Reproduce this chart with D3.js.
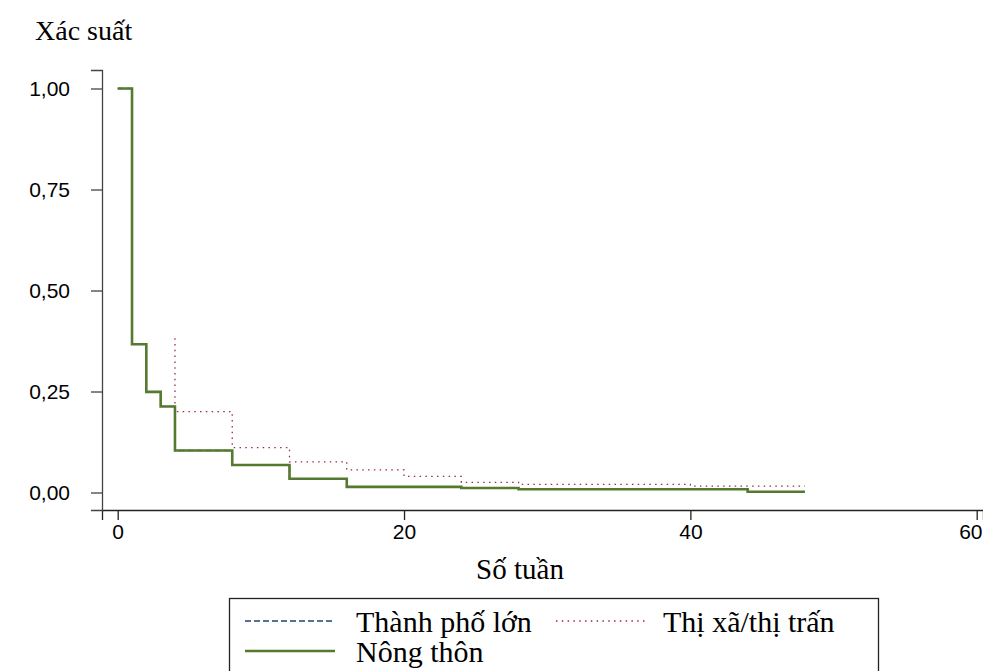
<!DOCTYPE html>
<html><head><meta charset="utf-8">
<script src="https://cdn.jsdelivr.net/npm/d3@7"></script>
<style>body{margin:0;background:#fff}svg{display:block}</style>
</head><body>
<script>
// Data (weeks, survival probability)
const weeksThanhPho = [0, 1, 2, 3, 4, 8, 12, 16, 24, 28, 44, 48];
const valuesThanhPho = [1.0, 0.367, 0.249, 0.213, 0.104, 0.068, 0.034, 0.014, 0.011, 0.008, 0.002, 0.002];
const weeksThiXa = [4, 4, 8, 12, 16, 20, 24, 28, 40, 48];
const valuesThiXa = [0.382, 0.200, 0.111, 0.076, 0.056, 0.040, 0.025, 0.020, 0.016, 0.016];
const weeksNongThon = [0, 1, 2, 3, 4, 8, 12, 16, 24, 28, 44, 48];
const valuesNongThon = [1.0, 0.367, 0.249, 0.213, 0.104, 0.068, 0.034, 0.014, 0.011, 0.008, 0.002, 0.002];
const xTicks = [0, 20, 40, 60];
const yTicks = [0, 0.25, 0.5, 0.75, 1.0];
const seriesNames = ["Thành phố lớn", "Thị xã/thị trấn", "Nông thôn"];

const W = 983, H = 671;
const svg = d3.select("body").append("svg").attr("width", W).attr("height", H);

const x = d3.scaleLinear().domain([-1.097, 60.44]).range([102, 983]);
const y = d3.scaleLinear().domain([-0.0433, 1.0458]).range([510, 70]);

const mk = (ws, vs) => ws.map((w, i) => ({w, v: vs[i]}));
const line = d3.line().x(d => x(d.w)).y(d => y(d.v)).curve(d3.curveStepAfter);
const sans = "Liberation Sans, Arial, sans-serif";

// axes
const xAxis = svg.append("g").attr("transform", "translate(0,510)")
  .call(d3.axisBottom(x).tickValues(xTicks).tickSizeOuter(0).tickSize(10).tickPadding(4));
xAxis.selectAll("text").attr("font-family", sans).attr("font-size", 21).attr("fill", "#000");
xAxis.selectAll("line,path").attr("stroke", "#222").attr("stroke-width", 1.3);
// keep the last label inside the picture
xAxis.selectAll(".tick text").each(function() {
  const b = this.getBBox();
  const gx = x(d3.select(this.parentNode).datum());
  const over = gx + b.x + b.width - 982;
  if (over > 0) d3.select(this).attr("x", -over);
});

const fmt = d => d3.format(".2f")(d).replace(".", ",");
const yAxis = svg.append("g").attr("transform", "translate(102,0)")
  .call(d3.axisLeft(y).tickValues(yTicks).tickFormat(fmt).tickSizeOuter(0).tickSize(11).tickPadding(21));
yAxis.selectAll("text").attr("font-family", sans).attr("font-size", 21).attr("fill", "#000");
yAxis.selectAll("line,path").attr("stroke", "#444").attr("stroke-width", 1.3);

// series
svg.append("path").datum(mk(weeksThanhPho, valuesThanhPho)).attr("d", line)
  .attr("fill", "none").attr("stroke", "#1a476f").attr("stroke-width", 1.3).attr("stroke-dasharray", "6,3");
svg.append("path").datum(mk(weeksThiXa, valuesThiXa)).attr("d", line)
  .attr("fill", "none").attr("stroke", "#9b2c45").attr("stroke-width", 1.3).attr("stroke-dasharray", "1.5,4.3");
svg.append("path").datum(mk(weeksNongThon, valuesNongThon)).attr("d", line)
  .attr("fill", "none").attr("stroke", "#55792f").attr("stroke-width", 2.6);

// titles
const serif = "Liberation Serif, Times New Roman, serif";
svg.append("text").attr("x", 35).attr("y", 40).attr("font-family", serif).attr("font-size", 28).text("Xác suất");
svg.append("text").attr("x", 520).attr("y", 579).attr("text-anchor", "middle").attr("font-family", serif).attr("font-size", 29).text("Số tuần");

// legend
svg.append("rect").attr("x", 229.5).attr("y", 598.5).attr("width", 649).attr("height", 90)
  .attr("fill", "none").attr("stroke", "#222").attr("stroke-width", 1.3);
const leg = [
  {x1: 245, x2: 335, y: 621, tx: 356, ty: 632, stroke: "#1a476f", sw: 1.4, dash: "6,3"},
  {x1: 556, x2: 645, y: 621, tx: 663, ty: 632, stroke: "#9b2c45", sw: 1.3, dash: "1.5,4.3"},
  {x1: 245, x2: 335, y: 651, tx: 356, ty: 662, stroke: "#55792f", sw: 2.6, dash: null}
];
leg.forEach((l, i) => {
  svg.append("line").attr("x1", l.x1).attr("x2", l.x2).attr("y1", l.y).attr("y2", l.y)
    .attr("stroke", l.stroke).attr("stroke-width", l.sw).attr("stroke-dasharray", l.dash);
  svg.append("text").attr("x", l.tx).attr("y", l.ty).attr("font-family", serif).attr("font-size", 30).text(seriesNames[i]);
});
</script>
</body></html>
